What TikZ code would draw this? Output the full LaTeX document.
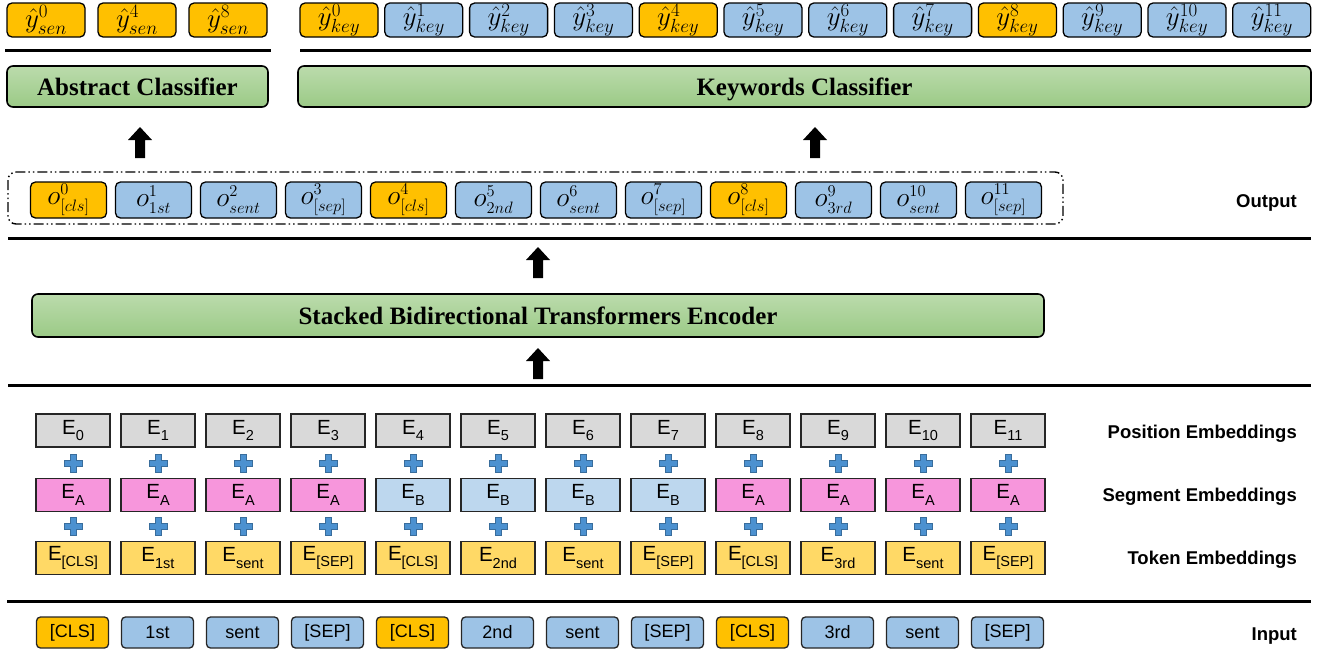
\RequirePackage{fix-cm}
\documentclass[tikz,border=0pt]{standalone}
\usepackage{fontspec}
\setmainfont{Liberation Serif}
\newfontfamily\labfont{Liberation Sans}
\usetikzlibrary{calc}

\DeclareMathSizes{27}{27}{19}{14}
\DeclareMathSizes{27.5}{27.5}{16.5}{12}

\definecolor{orng}{RGB}{255,192,0}
\definecolor{lblue}{RGB}{157,195,230}
\definecolor{posgray}{RGB}{217,217,217}
\definecolor{segA}{RGB}{247,150,220}
\definecolor{segB}{RGB}{189,215,238}
\definecolor{tokyel}{RGB}{255,217,102}
\definecolor{grntop}{RGB}{187,219,172}
\definecolor{grnbot}{RGB}{155,202,134}
\definecolor{plusblue}{RGB}{76,145,208}

\newcommand\Esub[1]{E\raisebox{-0.3em}{\fontsize{14.5pt}{14.5pt}\selectfont #1}}

\tikzset{
  ybox/.style={draw=black, line width=1.3pt, rounded corners=5pt,
    minimum width=78pt, minimum height=34pt, inner sep=0pt, fill=#1,
    font=\fontsize{27pt}{27pt}\selectfont},
  obox/.style={draw=black, line width=1.3pt, rounded corners=5pt,
    minimum width=76pt, minimum height=36pt, inner sep=0pt, fill=#1,
    font=\fontsize{27.5pt}{27.5pt}\selectfont},
  clsbox/.style={draw=black, line width=1.6pt, rounded corners=6pt,
    top color=grntop, bottom color=grnbot, inner sep=0pt,
    text height=17pt, text depth=0pt,
    font=\fontsize{25pt}{25pt}\selectfont\bfseries},
  embbox/.style={draw=black!85, line width=1.6pt, minimum width=74pt,
    minimum height=33pt, inner sep=0pt, fill=#1,
    font=\labfont\fontsize{20.5pt}{20.5pt}\selectfont},
  inbox/.style={draw=black!85, line width=1.3pt, rounded corners=4pt,
    minimum width=72pt, minimum height=31pt, inner sep=0pt, fill=#1,
    font=\labfont\fontsize{18pt}{18pt}\selectfont},
  rowlabel/.style={anchor=east, inner sep=0pt,
    font=\labfont\bfseries\fontsize{18.5pt}{18.5pt}\selectfont},
  sepline/.style={line width=3pt, black},
  plussign/.style={fill=plusblue, draw=plusblue!75!black, line width=0.5pt},
}

% filled block arrow pointing up, base centre at #1
\newcommand\upArrow[1]{%
  \fill[black] (#1) ++(-5,0) -- ++(0,-18) -- ++(-7,0) -- ++(12,-13)
    -- ++(12,13) -- ++(-7,0) -- ++(0,18) -- cycle;}
% blue plus sign centred at #1
\newcommand\plusMark[1]{%
  \path[plussign] (#1) ++(-3,-9) -- ++(6,0) -- ++(0,6) -- ++(6,0) -- ++(0,6)
    -- ++(-6,0) -- ++(0,6) -- ++(-6,0) -- ++(0,-6) -- ++(-6,0) -- ++(0,-6)
    -- ++(6,0) -- cycle;}

\begin{document}
\begin{tikzpicture}[x=1pt, y=-1pt]
\useasboundingbox (0,0) rectangle (1323,654);

% ---------- predictions ----------
\foreach \i/\s in {0/46, 4/137, 8/228}
  \node[ybox=orng] (ys\i) at (\s,20) {$\hat{y}^{\i}_{sen}$};
\foreach \i in {0,...,11}{
  \pgfmathtruncatemacro\isc{mod(\i,4)==0 ? 1 : 0}
  \ifnum\isc=1 \def\fc{orng}\else\def\fc{lblue}\fi
  \node[ybox=\fc] (yk\i) at ({339+84.8*\i},20) {$\hat{y}^{\i}_{key}$};
}
\draw[sepline] (5,50) -- (271,50);
\draw[sepline] (300,50) -- (1311,50);

% ---------- classifiers ----------
\node[clsbox, minimum width=261pt, minimum height=41pt] (abs) at (137.5,86.5)
  {Abstract Classifier};
\node[clsbox, minimum width=1013pt, minimum height=41pt] (kw) at (804.5,86.5)
  {Keywords Classifier};

\coordinate (a1) at (140,158);
\coordinate (a2) at (815,158);
\upArrow{a1}
\upArrow{a2}

% ---------- output ----------
\draw[line width=1.4pt, rounded corners=8pt,
  dash pattern=on 10pt off 3pt on 1.5pt off 3pt on 1.5pt off 3pt]
  (8,172) rectangle (1063,224);
\foreach \i/\sb in {0/{[cls]},1/{1st},2/{sent},3/{[sep]},4/{[cls]},5/{2nd},
  6/{sent},7/{[sep]},8/{[cls]},9/{3rd},10/{sent},11/{[sep]}}{
  \pgfmathtruncatemacro\isc{mod(\i,4)==0 ? 1 : 0}
  \ifnum\isc=1 \def\fc{orng}\else\def\fc{lblue}\fi
  \node[obox=\fc] (o\i) at ({68.5+85*\i},200) {$o^{\i}_{\sb}$};
}
\node[rowlabel] (lout) at (1297,203) {Output};
\draw[sepline] (8,238) -- (1311,238);

\coordinate (a3) at (538,278);
\upArrow{a3}

% ---------- encoder ----------
\node[clsbox, minimum width=1012pt, minimum height=43pt] (enc) at (538,315.5)
  {Stacked Bidirectional Transformers Encoder};

\coordinate (a4) at (538,379);
\upArrow{a4}
\draw[sepline] (8,385) -- (1311,385);

% ---------- embeddings ----------
\foreach \i/\tk/\sg in {0/{[CLS]}/A,1/{1st}/A,2/{sent}/A,3/{[SEP]}/A,
  4/{[CLS]}/B,5/{2nd}/B,6/{sent}/B,7/{[SEP]}/B,
  8/{[CLS]}/A,9/{3rd}/A,10/{sent}/A,11/{[SEP]}/A}{
  \pgfmathsetmacro\cx{73+85*\i}
  \node[embbox=posgray] (p\i) at (\cx,430.5) {\Esub{\i}};
  \if\sg A\def\sc{segA}\else\def\sc{segB}\fi
  \node[embbox=\sc] (s\i) at (\cx,495) {\Esub{\sg}};
  \node[embbox=tokyel] (t\i) at (\cx,558) {\Esub{\tk}};
  \coordinate (pa\i) at (\cx,463);
  \coordinate (pb\i) at (\cx,526.5);
  \plusMark{pa\i}
  \plusMark{pb\i}
}
\node[rowlabel] (lpos) at (1297,434) {Position Embeddings};
\node[rowlabel] (lseg) at (1297,497) {Segment Embeddings};
\node[rowlabel] (ltok) at (1297,560) {Token Embeddings};

\draw[sepline] (7,601) -- (1311,601);

% ---------- input ----------
\foreach \i/\tk in {0/{[CLS]},1/{1st},2/{sent},3/{[SEP]},4/{[CLS]},5/{2nd},
  6/{sent},7/{[SEP]},8/{[CLS]},9/{3rd},10/{sent},11/{[SEP]}}{
  \pgfmathtruncatemacro\isc{mod(\i,4)==0 ? 1 : 0}
  \ifnum\isc=1 \def\fc{orng}\else\def\fc{lblue}\fi
  \node[inbox=\fc] (in\i) at ({72.5+85*\i},632.5) {\tk};
}
\node[rowlabel] (lin) at (1297,636) {Input};
\end{tikzpicture}
\end{document}
